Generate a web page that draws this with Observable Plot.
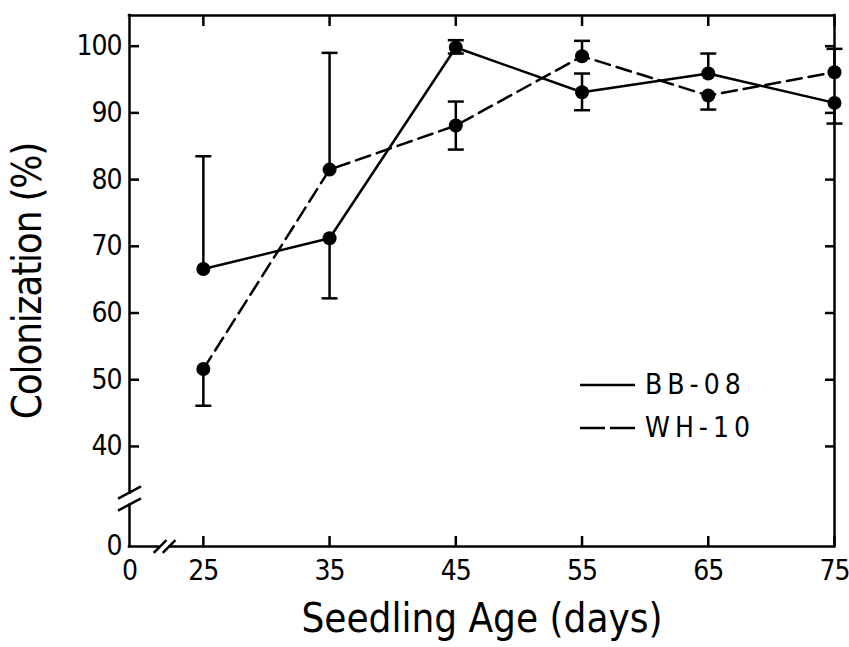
<!DOCTYPE html>
<html><head><meta charset="utf-8">
<script src="https://cdn.jsdelivr.net/npm/d3@7"></script>
<script src="https://cdn.jsdelivr.net/npm/@observablehq/plot@0.6"></script>
<style>
body{margin:0;background:#fff;}
#chart{position:relative;width:849px;height:647px;}
#chart svg text{letter-spacing:-1px;}
</style></head><body><div id="chart"></div>
<script>
// ---- data ----
const days = [25, 35, 45, 55, 65, 75];
const seriesNames = ["BB-08", "WH-10"];
const bbValues  = [66.6, 71.2, 99.8, 93.1, 95.9, 91.5];
const bbErrHigh = [83.5, null, 100.9, 95.9, 98.9, null];
const bbErrLow  = [null, 62.2, 98.9, 90.4, null, 88.4];
const whValues  = [51.6, 81.5, 88.1, 98.5, 92.6, 96.1];
const whErrHigh = [null, 99.0, 91.7, 100.8, null, 99.6];
const whErrLow  = [46.1, null, 84.5, null, 90.5, null];
const xTicks = [19.15, 25, 35, 45, 55, 65, 75];
const xTickLabels = ["0", "25", "35", "45", "55", "65", "75"];
const yTicks = [25, 40, 50, 60, 70, 80, 90, 100];
const yTickLabels = ["0", "40", "50", "60", "70", "80", "90", "100"];
const xDomain = [19.15, 75];
const yDomain = [25, 104.6];
const xBreakAt = 21.93, xGap = [21.45, 22.4];
const yBreakAt = 32.2, yGap = [31.2, 33.0];
const xLabel = "Seedling Age (days)";
const yLabel = "Colonization (%)";

// ---- table ----
const rows = days.flatMap((d, i) => [
  {series: seriesNames[0], day: d, value: bbValues[i], lo: bbErrLow[i], hi: bbErrHigh[i]},
  {series: seriesNames[1], day: d, value: whValues[i], lo: whErrLow[i], hi: whErrHigh[i]}
]);
const stems = rows.filter(r => r.lo != null || r.hi != null);
const caps = rows.flatMap(r => [r.lo, r.hi].filter(v => v != null).map(v => ({day: r.day, y: v})));
const xFmt = new Map(xTicks.map((t, i) => [t, xTickLabels[i]]));
const yFmt = new Map(yTicks.map((t, i) => [t, yTickLabels[i]]));

const FONT = '"DejaVu Sans Condensed", "DejaVu Sans", sans-serif';
const SW = 2.5;

// glyphs
const capSymbol = {draw(ctx, size) { const r = Math.sqrt(size / Math.PI); ctx.moveTo(-r, 0); ctx.lineTo(r, 0); }};
function slash(angleDeg) {
  const a = angleDeg * Math.PI / 180, c = Math.cos(a), s = Math.sin(a);
  return {draw(ctx, size) { const r = Math.sqrt(size / Math.PI); ctx.moveTo(-r * c, r * s); ctx.lineTo(r * c, -r * s); }};
}

const chart = Plot.plot({
  width: 849, height: 647,
  marginLeft: 129, marginRight: 15, marginTop: 15, marginBottom: 101,
  x: {domain: xDomain},
  y: {domain: yDomain},
  style: {fontFamily: FONT, fontSize: "28px", color: "black", background: "white"},
  marks: [
    // frame with breaks
    Plot.ruleY([yDomain[1]], {strokeWidth: SW, strokeLinecap: "square"}),
    Plot.ruleX([xDomain[1]], {strokeWidth: SW, strokeLinecap: "square"}),
    Plot.ruleX([xDomain[0]], {y1: yGap[1], y2: yDomain[1], strokeWidth: SW, strokeLinecap: "square"}),
    Plot.ruleX([xDomain[0]], {y1: yDomain[0], y2: yGap[0], strokeWidth: SW, strokeLinecap: "square"}),
    Plot.ruleY([yDomain[0]], {x1: xDomain[0], x2: xGap[0], strokeWidth: SW, strokeLinecap: "square"}),
    Plot.ruleY([yDomain[0]], {x1: xGap[1], x2: xDomain[1], strokeWidth: SW, strokeLinecap: "square"}),
    Plot.dot([yBreakAt], {x: () => xDomain[0], y: d => d, symbol: slash(28), r: 13, dy: -6, fill: "none", stroke: "black", strokeWidth: SW}),
    Plot.dot([yBreakAt], {x: () => xDomain[0], y: d => d, symbol: slash(28), r: 13, dy: 6, fill: "none", stroke: "black", strokeWidth: SW}),
    Plot.dot([xBreakAt], {x: d => d, y: () => yDomain[0], symbol: slash(45), r: 9, dx: -4.5, fill: "none", stroke: "black", strokeWidth: SW}),
    Plot.dot([xBreakAt], {x: d => d, y: () => yDomain[0], symbol: slash(45), r: 9, dx: 4.5, fill: "none", stroke: "black", strokeWidth: SW}),
    // inward ticks
    Plot.axisY({anchor: "left", ticks: yTicks.slice(1), tickSize: -10, fill: "none", label: null, strokeWidth: SW}),
    Plot.axisY({anchor: "right", ticks: yTicks.slice(1), tickSize: -10, fill: "none", label: null, strokeWidth: SW}),
    Plot.axisX({anchor: "bottom", ticks: xTicks.slice(1), tickSize: -10, fill: "none", label: null, strokeWidth: SW}),
    Plot.axisX({anchor: "top", ticks: xTicks.slice(1), tickSize: -10, fill: "none", label: null, strokeWidth: SW}),
    // tick labels
    Plot.axisY({anchor: "left", ticks: yTicks, tickSize: 0, tickPadding: 8, tickFormat: d => yFmt.get(d), label: null, fontSize: 28}),
    Plot.axisX({anchor: "bottom", ticks: xTicks, tickSize: 0, tickPadding: 14, tickFormat: d => xFmt.get(d), label: null, fontSize: 28}),
    // axis titles
    Plot.text([yLabel], {text: d => d, frameAnchor: "left", textAnchor: "middle", dx: -101, rotate: -90, fontSize: 40}),
    Plot.text([xLabel], {text: d => d, frameAnchor: "bottom", textAnchor: "middle", dy: 85, fontSize: 40}),
    // data
    Plot.ruleX(stems, {x: "day", y1: d => d.lo ?? d.value, y2: d => d.hi ?? d.value, strokeWidth: SW}),
    Plot.dot(caps, {x: "day", y: "y", symbol: capSymbol, r: 8, fill: "none", stroke: "black", strokeWidth: SW}),
    Plot.line(rows.filter(r => r.series === seriesNames[0]), {x: "day", y: "value", strokeWidth: SW}),
    Plot.line(rows.filter(r => r.series === seriesNames[1]), {x: "day", y: "value", strokeWidth: SW, strokeDasharray: "15,7"}),
    Plot.dot(rows, {x: "day", y: "value", r: 7, fill: "black", stroke: "none"})
  ]
});
document.getElementById("chart").appendChild(chart);

const svg = d3.select(chart);
svg.selectAll("text").filter(function() { return this.textContent === yLabel; }).style("letter-spacing", "-1.2px");
svg.selectAll("text").filter(function() { return this.textContent === xLabel; }).style("letter-spacing", "0px");

// legend
const legend = svg.append("g").attr("font-family", FONT).attr("font-size", 28).attr("text-anchor", "start");
const legendRows = [{name: seriesNames[0], dash: null, y: 385}, {name: seriesNames[1], dash: "25,5", y: 428}];
legendRows.forEach(l => {
  legend.append("line").attr("x1", 580).attr("x2", 635).attr("y1", l.y).attr("y2", l.y)
    .attr("stroke", "black").attr("stroke-width", SW).attr("stroke-dasharray", l.dash);
  legend.append("text").attr("x", 645).attr("y", l.y).attr("dy", "0.33em")
    .style("letter-spacing", "5px").attr("fill", "black").text(l.name);
});
</script></body></html>
